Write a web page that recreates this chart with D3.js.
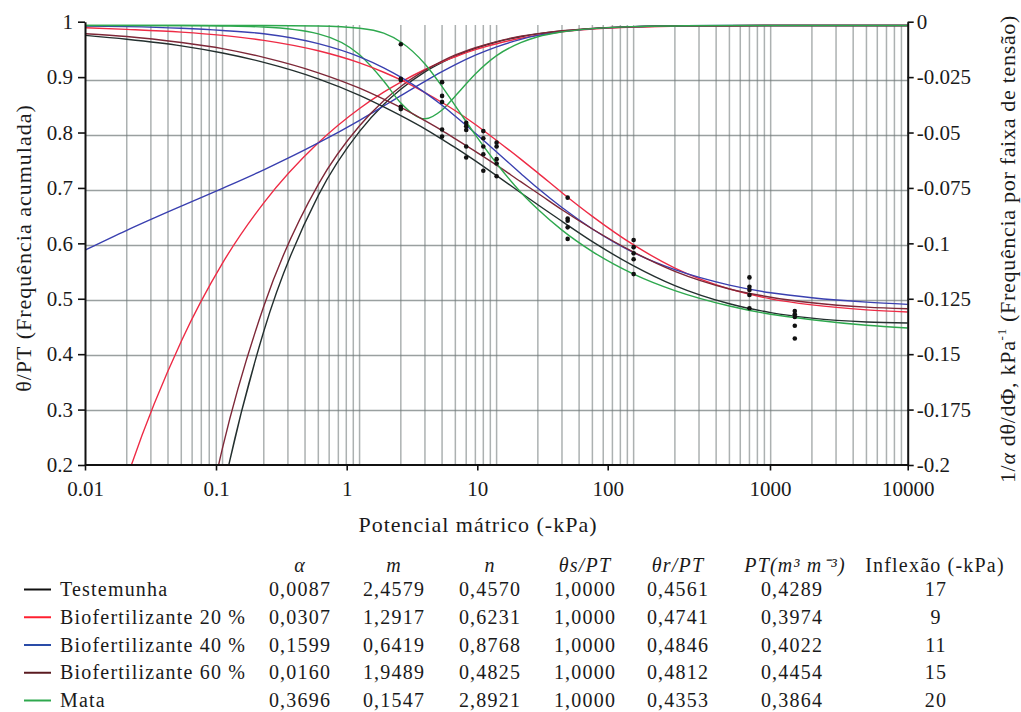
<!DOCTYPE html>
<html>
<head>
<meta charset="utf-8">
<script src="https://cdnjs.cloudflare.com/ajax/libs/d3/7.8.5/d3.min.js"></script>
<style>
  body { margin: 0; background: #fff; }
  svg text { font-family: "Liberation Serif", "Times New Roman", serif; fill: #1a1a1a; }
</style>
</head>
<body>
<svg id="chart"></svg>
<script>
(function () {
  'use strict';

  // tensions (-kPa) where the fitted curves were read
  var tensions = [0.01, 0.02, 0.05, 0.1, 0.2, 0.5, 1, 1.5, 2, 3, 4, 5, 7, 10, 15, 20, 30, 50, 100, 200, 500, 1000, 2000, 5000, 10000];

  // theta/PT along each curve (left axis)
  var thetaTestemunha = [0.982, 0.975, 0.963, 0.950, 0.933, 0.903, 0.873, 0.852, 0.836, 0.812, 0.793, 0.778, 0.754, 0.727, 0.696, 0.674, 0.644, 0.607, 0.563, 0.527, 0.494, 0.478, 0.468, 0.461, 0.459];
  var thetaBio20 = [0.996, 0.993, 0.988, 0.982, 0.973, 0.954, 0.932, 0.915, 0.901, 0.878, 0.860, 0.845, 0.820, 0.791, 0.757, 0.732, 0.696, 0.653, 0.601, 0.559, 0.521, 0.503, 0.492, 0.483, 0.479];
  var thetaBio40 = [0.999, 0.998, 0.995, 0.991, 0.985, 0.967, 0.943, 0.923, 0.906, 0.878, 0.855, 0.835, 0.804, 0.770, 0.731, 0.704, 0.669, 0.630, 0.587, 0.556, 0.528, 0.514, 0.505, 0.497, 0.493];
  var thetaBio60 = [0.985, 0.980, 0.969, 0.958, 0.942, 0.914, 0.886, 0.866, 0.851, 0.827, 0.809, 0.794, 0.771, 0.746, 0.716, 0.695, 0.665, 0.630, 0.588, 0.553, 0.521, 0.506, 0.496, 0.488, 0.485];
  var thetaMata = [1.000, 1.000, 1.000, 1.000, 1.000, 0.999, 0.995, 0.986, 0.970, 0.930, 0.889, 0.854, 0.801, 0.749, 0.697, 0.666, 0.628, 0.589, 0.548, 0.518, 0.490, 0.475, 0.465, 0.455, 0.450];

  // frequency per tension band (right axis), null where far under the frame
  var freqTestemunha = [null, null, -0.322, -0.213, -0.139, -0.0772, -0.0481, -0.0359, -0.0290, -0.0211, -0.0168, -0.0139, -0.0104, -0.0075, -0.0051, -0.0038, -0.0025, -0.0014, -0.0006, -0.0002, -0.0001, 0, 0, 0, 0];
  var freqBio20 = [-0.270, -0.206, -0.1435, -0.108, -0.0806, -0.0533, -0.0377, -0.0303, -0.0257, -0.0200, -0.0165, -0.0142, -0.0110, -0.0083, -0.0058, -0.0044, -0.0029, -0.0016, -0.0007, -0.0003, -0.0001, 0, 0, 0, 0];
  var freqBio40 = [-0.1020, -0.0931, -0.0821, -0.0740, -0.0656, -0.0534, -0.0431, -0.0366, -0.0319, -0.0254, -0.0210, -0.0178, -0.0135, -0.0097, -0.0063, -0.0045, -0.0028, -0.0014, -0.0005, -0.0002, 0, 0, 0, 0, 0];
  var freqBio60 = [null, null, -0.285, -0.192, -0.1276, -0.0722, -0.0456, -0.0342, -0.0277, -0.0204, -0.0162, -0.0134, -0.0101, -0.0073, -0.0049, -0.0037, -0.0024, -0.0013, -0.0005, -0.0002, -0.0001, 0, 0, 0, 0];
  var freqMata = [0, 0, 0, -0.0002, -0.0007, -0.0038, -0.0133, -0.0252, -0.0352, -0.0424, -0.0384, -0.0320, -0.0220, -0.0137, -0.0078, -0.0051, -0.0029, -0.0014, -0.0005, -0.0002, 0, 0, 0, 0, 0];

  // measured points (all series), by tension
  var pointTensions = [2, 4, 6, 8, 10, 33, 100, 700, 1500];
  var pointValues = [
    [0.966, 0.903, 0.901, 0.852, 0.848],
    [0.897, 0.872, 0.861, 0.811, 0.798],
    [0.823, 0.817, 0.810, 0.780, 0.760],
    [0.808, 0.795, 0.780, 0.766, 0.736],
    [0.787, 0.780, 0.757, 0.749, 0.726],
    [0.687, 0.649, 0.645, 0.633, 0.612],
    [0.610, 0.597, 0.586, 0.575, 0.548],
    [0.542, 0.525, 0.519, 0.510, 0.486],
    [0.481, 0.475, 0.470, 0.454, 0.431]
  ];

  // axis ticks
  var xTickValues = [0.01, 0.1, 1, 10, 100, 1000, 10000];
  var yTickValues = [0.2, 0.3, 0.4, 0.5, 0.6, 0.7, 0.8, 0.9, 1];
  var yRightTickValues = [-0.2, -0.175, -0.15, -0.125, -0.1, -0.075, -0.05, -0.025, 0];

  // legend table
  var seriesNames = ['Testemunha', 'Biofertilizante 20 %', 'Biofertilizante 40 %', 'Biofertilizante 60 %', 'Mata'];
  var colAlpha = ['0,0087', '0,0307', '0,1599', '0,0160', '0,3696'];
  var colM = ['2,4579', '1,2917', '0,6419', '1,9489', '0,1547'];
  var colN = ['0,4570', '0,6231', '0,8768', '0,4825', '2,8921'];
  var colThetaS = ['1,0000', '1,0000', '1,0000', '1,0000', '1,0000'];
  var colThetaR = ['0,4561', '0,4741', '0,4846', '0,4812', '0,4353'];
  var colPT = ['0,4289', '0,3974', '0,4022', '0,4454', '0,3864'];
  var colInflexao = ['17', '9', '11', '15', '20'];

  var seriesColors = ['#24302f', '#ee2b45', '#3a40b0', '#7e2838', '#2ea84e'];
  var legendColors = ['#111111', '#ff2030', '#2a4ca8', '#5a1a20', '#2ea84e'];

  var svgW = 1021,
      svgH = 712;

  var svg = d3.select('#chart').attr('width', svgW).attr('height', svgH);

  var x = d3.scaleLog().domain([0.01, 10000]).range([85.5, 907.7]);
  var y = d3.scaleLinear().domain([0.2, 1]).range([465.5, 25.5]);
  var yRight = d3.scaleLinear().domain([-0.2, 0]).range([465.5, 25.5]);

  // the tick marks in the source sit a little off the grid, so they get their own scales
  var xTick = d3.scaleLog().domain(xTickValues).range([85, 216, 346.7, 477.3, 607.7, 770, 907.7]);
  var yTick = d3.scaleLinear().domain([0.2, 1]).range([465, 21.7]);
  var yRightTick = d3.scaleLinear().domain([-0.2, 0]).range([465, 21.7]);

  // grid
  var grid = svg.append('g');
  grid.selectAll('line.v')
    .data(x.ticks().filter(function (d) { return d > 0.01 && d < 10000; }))
    .enter().append('line')
      .attr('x1', function (d) { return x(d); })
      .attr('x2', function (d) { return x(d); })
      .attr('y1', 25)
      .attr('y2', 464.5)
      .attr('stroke', '#7f8787')
      .attr('stroke-opacity', 0.65)
      .attr('stroke-width', 1.5);
  grid.selectAll('line.h')
    .data(y.ticks(8).filter(function (d) { return d > 0.21 && d < 0.99; }))
    .enter().append('line')
      .attr('x1', 85)
      .attr('x2', 907.7)
      .attr('y1', function (d) { return y(d); })
      .attr('y2', function (d) { return y(d); })
      .attr('stroke', '#6f7777')
      .attr('stroke-opacity', 0.7)
      .attr('stroke-width', 1.6);

  svg.append('defs').append('clipPath').attr('id', 'plot-clip')
    .append('rect').attr('x', 85).attr('y', 18).attr('width', 823).attr('height', 447.5);

  var plot = svg.append('g').attr('clip-path', 'url(#plot-clip)');

  var freqLine = d3.line()
    .defined(function (d) { return d[1] !== null; })
    .x(function (d) { return x(d[0]); })
    .y(function (d) { return yRight(d[1]); })
    .curve(d3.curveMonotoneX);

  var thetaLine = d3.line()
    .x(function (d) { return x(d[0]); })
    .y(function (d) { return y(d[1]); })
    .curve(d3.curveMonotoneX);

  var freqSeries = [freqTestemunha, freqBio20, freqBio40, freqBio60, freqMata];
  var thetaSeries = [thetaTestemunha, thetaBio20, thetaBio40, thetaBio60, thetaMata];

  function pairs(values) {
    return tensions.map(function (t, i) { return [t, values[i]]; });
  }

  plot.selectAll('path.freq')
    .data(freqSeries).enter()
    .append('path')
      .attr('class', 'freq')
      .attr('d', function (d) { return freqLine(pairs(d)); })
      .attr('fill', 'none')
      .attr('stroke', function (d, i) { return seriesColors[i]; })
      .attr('stroke-width', 1.4);

  plot.selectAll('path.theta')
    .data(thetaSeries).enter()
    .append('path')
      .attr('class', 'theta')
      .attr('d', function (d) { return thetaLine(pairs(d)); })
      .attr('fill', 'none')
      .attr('stroke', function (d, i) { return seriesColors[i]; })
      .attr('stroke-width', 1.4);

  // measured points
  var pts = [];
  pointTensions.forEach(function (t, i) {
    pointValues[i].forEach(function (v) { pts.push([t, v]); });
  });
  plot.selectAll('circle.pt')
    .data(pts).enter()
    .append('circle')
      .attr('class', 'pt')
      .attr('cx', function (d) { return x(d[0]); })
      .attr('cy', function (d) { return y(d[1]); })
      .attr('r', 2.3)
      .attr('fill', '#111');

  // axes
  function styleAxis(g) {
    g.attr('font-family', null).attr('font-size', null);
    g.select('.domain').attr('stroke', '#111').attr('stroke-width', 2);
    g.selectAll('.tick line').attr('stroke', '#111').attr('stroke-width', 1.6);
    g.selectAll('.tick text')
      .attr('font-family', '"Liberation Serif", serif')
      .attr('font-size', 21)
      .attr('fill', '#1a1a1a');
  }

  svg.append('g')
    .attr('transform', 'translate(0,464.5)')
    .call(d3.axisBottom(xTick).tickValues(xTickValues).tickSize(6).tickSizeOuter(0).tickPadding(11)
      .tickFormat(function (d) { return String(d); }))
    .call(styleAxis);

  svg.append('g')
    .attr('transform', 'translate(85,0)')
    .call(d3.axisLeft(yTick).tickValues(yTickValues).tickSize(7).tickSizeOuter(0).tickPadding(5)
      .tickFormat(function (d) { return String(d); }))
    .call(styleAxis);

  svg.append('g')
    .attr('transform', 'translate(907.7,0)')
    .call(d3.axisRight(yRightTick).tickValues(yRightTickValues).tickSize(6).tickSizeOuter(0).tickPadding(3)
      .tickFormat(function (d) { return String(d); }))
    .call(styleAxis);

  // axis titles
  svg.append('text')
    .attr('x', 478)
    .attr('y', 532)
    .attr('text-anchor', 'middle')
    .attr('font-size', 22)
    .attr('letter-spacing', 1)
    .text('Potencial mátrico (-kPa)');

  svg.append('text')
    .attr('transform', 'translate(31,248) rotate(-90)')
    .attr('text-anchor', 'middle')
    .attr('font-size', 22)
    .attr('letter-spacing', 1)
    .text('θ/PT (Frequência acumulada)');

  var rightTitle = svg.append('text')
    .attr('transform', 'translate(1015,249) rotate(-90)')
    .attr('text-anchor', 'middle')
    .attr('font-size', 22)
    .attr('letter-spacing', 0.7);
  rightTitle.append('tspan').text('1/');
  rightTitle.append('tspan').attr('font-style', 'italic').text('α');
  rightTitle.append('tspan').text(' dθ/dΦ, kPa');
  rightTitle.append('tspan').attr('font-size', 13).attr('dy', -9).text('-1');
  rightTitle.append('tspan').attr('dy', 9).text(' (Frequência por faixa de tensão)');

  // legend table
  var legend = svg.append('g').attr('font-size', 20).attr('letter-spacing', 1.2);
  var headerY = 572;
  var headers = [
    { text: 'α', x: 300, italic: true },
    { text: 'm', x: 394, italic: true },
    { text: 'n', x: 490, italic: true },
    { text: 'θs/PT', x: 585, italic: true },
    { text: 'θr/PT', x: 678, italic: true },
    { text: 'PT(m³ m⁻³)', x: 795, italic: true },
    { text: 'Inflexão (-kPa)', x: 935, italic: false }
  ];
  legend.selectAll('text.head')
    .data(headers).enter()
    .append('text')
      .attr('class', 'head')
      .attr('x', function (d) { return d.x; })
      .attr('y', headerY)
      .attr('text-anchor', 'middle')
      .attr('font-style', function (d) { return d.italic ? 'italic' : null; })
      .text(function (d) { return d.text; });

  var columns = [
    { values: colAlpha, x: 300 },
    { values: colM, x: 394 },
    { values: colN, x: 490 },
    { values: colThetaS, x: 585 },
    { values: colThetaR, x: 678 },
    { values: colPT, x: 792 },
    { values: colInflexao, x: 936 }
  ];

  var rows = legend.selectAll('g.row')
    .data(seriesNames).enter()
    .append('g')
      .attr('class', 'row')
      .attr('transform', function (d, i) { return 'translate(0,' + (596 + i * 27.75) + ')'; });

  rows.append('line')
    .attr('x1', 24).attr('x2', 51)
    .attr('y1', -6.5).attr('y2', -6.5)
    .attr('stroke', function (d, i) { return legendColors[i]; })
    .attr('stroke-width', 2);

  rows.append('text')
    .attr('x', 60)
    .text(function (d) { return d; });

  columns.forEach(function (col) {
    rows.append('text')
      .attr('x', col.x)
      .attr('text-anchor', 'middle')
      .text(function (d, i) { return col.values[i]; });
  });

}());
</script>
</body>
</html>
